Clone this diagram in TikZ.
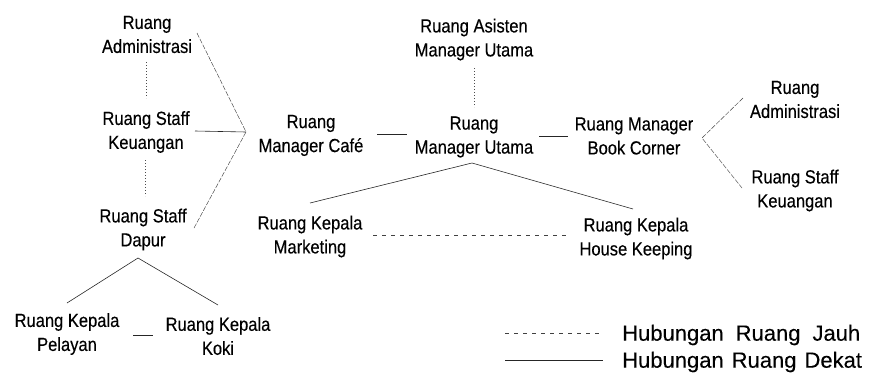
\documentclass[tikz,border=0pt]{standalone}
\usepackage{fontspec}
\newfontfamily\lab[FakeStretch=0.87,FakeBold=0.3]{Liberation Sans}
\newfontfamily\leg[FakeBold=0.2]{Liberation Sans}
\begin{document}
\begin{tikzpicture}[x=1pt,y=-1pt,
  lbl/.style={font=\lab\fontsize{19}{24}\selectfont, align=center, inner sep=0pt},
  legtext/.style={font=\leg\fontsize{22}{24}\selectfont, anchor=west, inner sep=0pt},
  near/.style={line width=0.6pt, black!85},
  far/.style={line width=0.6pt, black!75, dash pattern=on 4pt off 5pt},
  dots/.style={line width=0.5pt, black!70, dash pattern=on 1.2pt off 1.8pt},
  thin/.style={line width=0.45pt, black!75, dash pattern=on 5pt off 1.5pt}]
\useasboundingbox (0,0) rectangle (873,388);
% labels
\node[lbl] (adminL) at (147,34.5) {Ruang\\Administrasi};
\node[lbl] (keuL) at (146,132) {Ruang Staff\\Keuangan};
\node[lbl] (dapurL) at (143,229.5) {Ruang Staff\\Dapur};
\node[lbl] (pelayan) at (67,334) {Ruang Kepala\\Pelayan};
\node[lbl] (koki) at (218,336) {Ruang Kepala\\Koki};
\node[lbl] (cafe) at (311,135.5) {Ruang\\Manager Café};
\node[lbl] (utama) at (474,137) {Ruang\\Manager Utama};
\node[lbl] (asisten) at (474,39.5) {Ruang Asisten\\Manager Utama};
\node[lbl] (book) at (634,136) {Ruang Manager\\Book Corner};
\node[lbl] (adminR) at (795,99.5) {Ruang\\Administrasi};
\node[lbl] (keuR) at (795,190.5) {Ruang Staff\\Keuangan};
\node[lbl] (market) at (310,236.5) {Ruang Kepala\\Marketing};
\node[lbl] (hk) at (636,238.5) {Ruang Kepala\\House Keeping};
% connector end points
\coordinate (fA) at (246,132);
\coordinate (aOut) at (197,33);
\coordinate (kOut) at (195,131);
\coordinate (dOut) at (194,228);
\coordinate (v1a) at (146,62);
\coordinate (v1b) at (146,98);
\coordinate (v2a) at (145,160);
\coordinate (v2b) at (145,196);
\coordinate (fD) at (138,258);
\coordinate (pelT) at (67,303);
\coordinate (kokT) at (218,305);
\coordinate (pkA) at (133,335);
\coordinate (pkB) at (153,335);
\coordinate (cuA) at (377,134);
\coordinate (cuB) at (407,134);
\coordinate (ubA) at (539,136);
\coordinate (ubB) at (568,136);
\coordinate (auA) at (474,68);
\coordinate (auB) at (474,107);
\coordinate (fU) at (472,163);
\coordinate (mkT) at (310,203);
\coordinate (hkT) at (633,209);
\coordinate (mhA) at (373,235);
\coordinate (mhB) at (568,235);
\coordinate (fB) at (702,138);
\coordinate (arB) at (743,98);
\coordinate (krB) at (742,188);
% connectors
\draw[thin] (aOut) -- (fA);
\draw[near] (kOut) -- (fA);
\draw[thin] (dOut) -- (fA);
\draw[dots] (v1a) -- (v1b);
\draw[dots] (v2a) -- (v2b);
\draw[near] (pelT) -- (fD) -- (kokT);
\draw[near] (pkA) -- (pkB);
\draw[near] (cuA) -- (cuB);
\draw[near] (ubA) -- (ubB);
\draw[dots] (auA) -- (auB);
\draw[near] (mkT) -- (fU) -- (hkT);
\draw[far] (mhA) -- (mhB);
\draw[thin] (arB) -- (fB) -- (krB);
% legend
\coordinate (l1a) at (505,333);
\coordinate (l1b) at (603,333);
\coordinate (l2a) at (505,360);
\coordinate (l2b) at (603,360);
\draw[far] (l1a) -- (l1b);
\draw[near] (l2a) -- (l2b);
\node[legtext] (jauh) at (622,335) {Hubungan\hspace{12pt}Ruang\hspace{12pt}Jauh};
\node[legtext] (dekat) at (622,362) {Hubungan\hspace{8pt}Ruang\hspace{8pt}Dekat};
\end{tikzpicture}
\end{document}
